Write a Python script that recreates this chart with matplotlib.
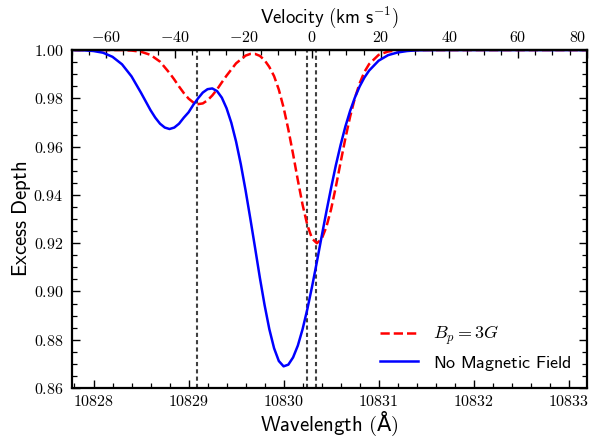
import matplotlib
matplotlib.use("Agg")
import matplotlib.pyplot as plt
from matplotlib.ticker import MultipleLocator, FuncFormatter

plt.rcParams['mathtext.fontset'] = 'cm'
plt.rcParams['font.family'] = ['DejaVu Sans']

# ---- data ----
lam_red = [10827.80, 10828.30, 10828.40, 10828.50, 10828.60, 10828.70, 10828.80, 10828.85,
           10828.90, 10828.95, 10829.00, 10829.05, 10829.10, 10829.15, 10829.20, 10829.25,
           10829.30, 10829.35, 10829.40, 10829.50, 10829.60, 10829.65, 10829.70, 10829.75,
           10829.80, 10829.85, 10829.90, 10829.95, 10830.00, 10830.05, 10830.10, 10830.15,
           10830.20, 10830.25, 10830.30, 10830.35, 10830.40, 10830.45, 10830.50, 10830.55,
           10830.60, 10830.65, 10830.70, 10830.75, 10830.80, 10830.85, 10830.90, 10831.00,
           10831.10, 10831.20, 10831.40, 10833.30]
dep_red = [1.0000, 1.0000, 0.9998, 0.9993, 0.9980, 0.9952, 0.9905, 0.9878,
           0.9849, 0.9822, 0.9799, 0.9783, 0.9776, 0.9779, 0.9792, 0.9812,
           0.9837, 0.9866, 0.9894, 0.9945, 0.9977, 0.9984, 0.9984, 0.9976,
           0.9958, 0.9930, 0.9892, 0.9836, 0.9762, 0.9671, 0.9569, 0.9461,
           0.9359, 0.9275, 0.9219, 0.9200, 0.9217, 0.9267, 0.9341, 0.9434,
           0.9535, 0.9634, 0.9724, 0.9801, 0.9862, 0.9909, 0.9942, 0.9980,
           0.9994, 0.9999, 1.0000, 1.0000]

lam_blue = [10827.80, 10827.90, 10828.00, 10828.10, 10828.20, 10828.30, 10828.40, 10828.50,
            10828.55, 10828.60, 10828.65, 10828.70, 10828.75, 10828.80, 10828.85, 10828.90,
            10828.95, 10829.00, 10829.05, 10829.10, 10829.15, 10829.20, 10829.25, 10829.30,
            10829.35, 10829.40, 10829.45, 10829.50, 10829.55, 10829.60, 10829.65, 10829.70,
            10829.75, 10829.80, 10829.85, 10829.90, 10829.95, 10830.00, 10830.05, 10830.10,
            10830.15, 10830.20, 10830.25, 10830.30, 10830.35, 10830.40, 10830.45, 10830.50,
            10830.55, 10830.60, 10830.65, 10830.70, 10830.75, 10830.80, 10830.85, 10830.90,
            10831.00, 10831.10, 10831.20, 10831.30, 10831.40, 10831.60, 10833.30]
dep_blue = [1.0000, 0.9999, 0.9996, 0.9989, 0.9972, 0.9941, 0.9891, 0.9823,
            0.9787, 0.9751, 0.9720, 0.9695, 0.9679, 0.9673, 0.9679, 0.9695,
            0.9720, 0.9742, 0.9773, 0.9800, 0.9824, 0.9838, 0.9841, 0.9830,
            0.9803, 0.9759, 0.9699, 0.9621, 0.9527, 0.9419, 0.9302, 0.9181,
            0.9058, 0.8944, 0.8844, 0.8765, 0.8712, 0.8690, 0.8697, 0.8727,
            0.8776, 0.8844, 0.8927, 0.9021, 0.9122, 0.9227, 0.9330, 0.9429,
            0.9523, 0.9607, 0.9683, 0.9748, 0.9803, 0.9849, 0.9886, 0.9915,
            0.9956, 0.9979, 0.9990, 0.9996, 0.9999, 1.0000, 1.0000]

line_centres = [10829.09, 10830.25, 10830.34]
lam0 = 10830.3
c_kms = 299792.458
vel_limits = [-70, 80]
xticks = [10828, 10829, 10830, 10831, 10832, 10833]
yticks = [0.86, 0.88, 0.90, 0.92, 0.94, 0.96, 0.98, 1.00]
vticks = [-60, -40, -20, 0, 20, 40, 60, 80]


def lam2vel(l):
    return (l - lam0) / lam0 * c_kms


def vel2lam(v):
    return lam0 * (1 + v / c_kms)


fig = plt.figure(figsize=(5.93, 4.43), dpi=100)
ax = fig.add_axes([0.121, 0.124, 0.8685, 0.763])

ax.plot(lam_red, dep_red, color='red', ls='--', lw=1.8, label=r'$B_p = 3G$')
ax.plot(lam_blue, dep_blue, color='blue', ls='-', lw=1.8, label=r'$\mathsf{No\ Magnetic\ Field}$')
for lc in line_centres:
    ax.axvline(lc, color='0.25', ls=(0, (2, 1.5)), lw=1.5, zorder=1)

ax.set_xlim(vel2lam(vel_limits[0]), vel2lam(vel_limits[1]))
ax.set_ylim(0.86, 1.00)
ax.set_xticks(xticks)
ax.set_yticks(yticks)
ax.xaxis.set_minor_locator(MultipleLocator(0.2))
ax.yaxis.set_minor_locator(MultipleLocator(0.005))
ax.xaxis.set_major_formatter(FuncFormatter(lambda v, p: f'${v:.0f}$'))
ax.yaxis.set_major_formatter(FuncFormatter(lambda v, p: f'${v:.2f}$'))

ax.tick_params(which='both', direction='in', right=True, top=False, labelsize=11.5)
ax.tick_params(which='major', length=6, width=1.0)
ax.tick_params(which='minor', length=3.5, width=0.9)
ax.tick_params(axis='y', pad=6)
ax.tick_params(axis='x', pad=4)
for s in ax.spines.values():
    s.set_linewidth(1.6)

sec = ax.secondary_xaxis('top', functions=(lam2vel, vel2lam))
sec.set_xticks(vticks)
sec.xaxis.set_minor_locator(MultipleLocator(5))
sec.xaxis.set_major_formatter(FuncFormatter(lambda v, p: f'${v:.0f}$'))
sec.tick_params(which='both', direction='in', labelsize=11.5, pad=4)
sec.tick_params(which='major', length=6, width=1.0)
sec.tick_params(which='minor', length=3.5, width=0.9)
sec.spines['top'].set_linewidth(1.6)
sec.set_xlabel(r'$\mathsf{Velocity\ (km\ s^{-1})}$', fontsize=13.5, labelpad=5)

ax.set_xlabel(r'$\mathsf{Wavelength\ (}$Å$\mathsf{)}$', fontsize=15, labelpad=1)
ax.set_ylabel(r'$\mathsf{Excess\ Depth}$', fontsize=15, labelpad=0)

leg = ax.legend(loc='lower right', frameon=False, fontsize=13, handlelength=2.1,
                handletextpad=0.8, labelspacing=0.35, borderaxespad=0.45)

fig.canvas.draw()
for t in sec.xaxis.get_majorticklabels():
    if t.get_text() == '$80$':
        t.set_horizontalalignment('right')
        t.set_x(t.get_position()[0])

fig.savefig('out.png', dpi=100)
